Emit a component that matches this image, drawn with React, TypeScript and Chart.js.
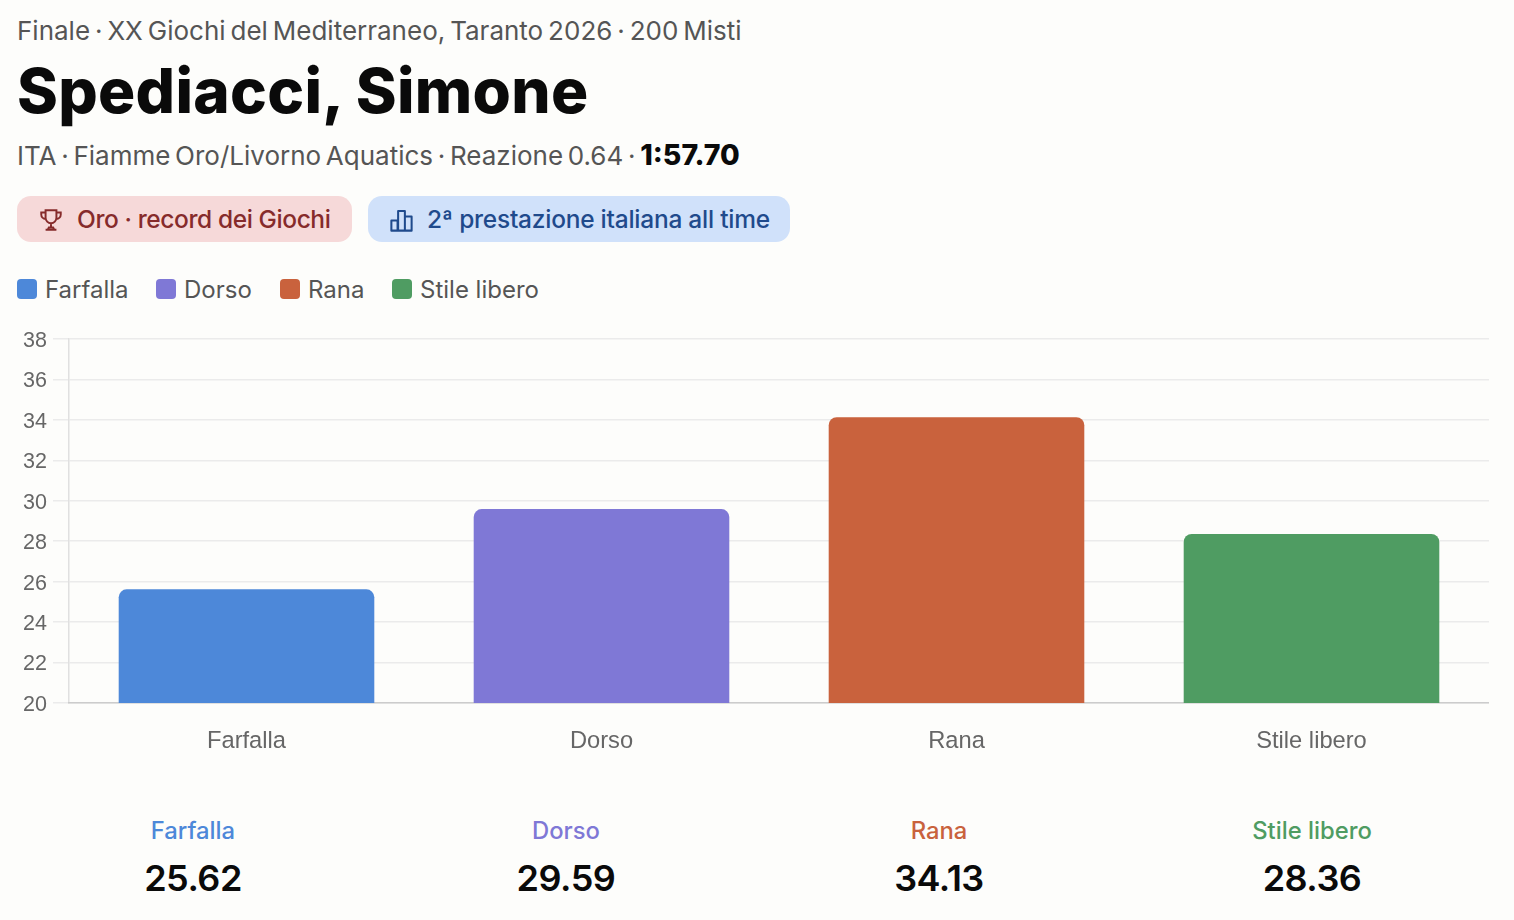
import React, { useEffect, useRef } from "react";
import { Chart, registerables } from "chart.js";

Chart.register(...registerables);

const categories = ["Farfalla", "Dorso", "Rana", "Stile libero"];
const splits = [25.62, 29.59, 34.13, 28.36];
const splitLabels = ["25.62", "29.59", "34.13", "28.36"];
const colors = ["#4d88d9", "#7f78d6", "#c9623d", "#4f9c62"];
const yTicks = [20, 22, 24, 26, 28, 30, 32, 34, 36, 38];

const FONT = "Inter, 'Noto Sans', sans-serif";
const abs = (x: number, y: number): React.CSSProperties => ({ position: "absolute", left: x, top: y, whiteSpace: "nowrap", lineHeight: 1 });

export default function App() {
  const ref = useRef<HTMLCanvasElement>(null);
  useEffect(() => {
    const chart = new Chart(ref.current!, {
      type: "bar",
      data: {
        labels: categories,
        datasets: [{ data: splits, backgroundColor: colors, borderRadius: 8, borderSkipped: "bottom", categoryPercentage: 0.72, barPercentage: 1 }],
      },
      options: {
        animation: false,
        responsive: false,
        maintainAspectRatio: false,
        devicePixelRatio: 1,
        layout: { padding: 0 },
        plugins: { legend: { display: false }, tooltip: { enabled: false } },
        scales: {
          y: {
            min: 20,
            max: 38,
            afterBuildTicks: (a: any) => { a.ticks = yTicks.map((value) => ({ value })); },
            afterFit: (a: any) => { a.width = 69; a.paddingTop = 19; },
            ticks: {
              color: "#666666",
              font: { family: "Liberation Sans, Arial, sans-serif", size: 21.5, lineHeight: "4px" },
              padding: 6,
              autoSkip: false,
              callback: (v: any) => ["", String(v)],
            },
            grid: { color: "#ebebeb", lineWidth: 1.5, tickLength: 16 },
            border: { color: "#e0e0e0", width: 1.5 },
          },
          x: {
            afterFit: (a: any) => { a.height = 57; },
            ticks: { color: "#666666", font: { family: "Liberation Sans, Arial, sans-serif", size: 23.7 }, padding: 16 },
            grid: { display: false },
            border: { color: "#cccccc", width: 1.5 },
          },
        },
      },
    });
    return () => chart.destroy();
  }, []);

  return (
    <div style={{ position: "absolute", left: 0, top: 0, width: 1514, height: 920, background: "#fdfdfb", overflow: "hidden", fontFamily: FONT, color: "#555" }}>
      <div style={{ ...abs(17, 18), fontSize: 26, wordSpacing: -2.4 }}>Finale · XX Giochi del Mediterraneo, Taranto 2026 · 200 Misti</div>
      <div style={{ ...abs(17, 60), fontSize: 62, fontWeight: 800, color: "#0a0a0a", letterSpacing: 0.3 }}>Spediacci, Simone</div>
      <div style={{ ...abs(17, 141), fontSize: 26, wordSpacing: -2.6 }}>
        ITA · Fiamme Oro/Livorno Aquatics · Reazione 0.64 · <span style={{ fontWeight: 800, color: "#0a0a0a", fontSize: 28.5, wordSpacing: 0 }}>1:57.70</span>
      </div>

      <div style={{ ...abs(17, 196), width: 335, height: 46, borderRadius: 14, background: "#f6d9d9" }} />
      <svg style={{ position: "absolute", left: 38, top: 207 }} width="26" height="26" viewBox="0 0 24 24" fill="none" stroke="#862b2b" strokeWidth="1.8">
        <path d="M7 3h10v7a5 5 0 0 1-10 0zM7 5H3v2a4 4 0 0 0 4 4M17 5h4v2a4 4 0 0 1-4 4M12 15v4M7 21h10M9 21l1-2h4l1 2" />
      </svg>
      <div style={{ ...abs(77, 207), fontSize: 24.5, fontWeight: 500, letterSpacing: -0.4, color: "#862b2b" }}>Oro · record dei Giochi</div>

      <div style={{ ...abs(368, 196), width: 422, height: 46, borderRadius: 14, background: "#d0e1fa" }} />
      <svg style={{ position: "absolute", left: 388, top: 207 }} width="27" height="27" viewBox="0 0 24 24" fill="none" stroke="#1f4a8c" strokeWidth="1.8">
        <path d="M3 12h5.500v9H3zM9 3.500h6V21H9zM15 8.500h6V21h-6zM3 21h18" strokeLinejoin="round" />
      </svg>
      <div style={{ ...abs(427, 207), fontSize: 24.5, fontWeight: 500, letterSpacing: -0.25, color: "#1f4a8c" }}>2ª prestazione italiana all time</div>

      {categories.map((c, i) => {
        const xs = [17, 156, 280, 392];
        return (
          <React.Fragment key={c}>
            <div style={{ ...abs(xs[i], 279), width: 20, height: 20, borderRadius: 4, background: colors[i] }} />
            <div style={{ ...abs(xs[i] + 28, 278), fontSize: 24 }}>{c}</div>
          </React.Fragment>
        );
      })}

      <canvas ref={ref} width={1489} height={440} style={{ position: "absolute", left: 0, top: 320, width: 1489, height: 440 }} />

      {categories.map((c, i) => {
        const cx = [193, 566, 939, 1312];
        return (
          <React.Fragment key={c + "s"}>
            <div style={{ position: "absolute", left: cx[i] - 100, width: 200, top: 819, textAlign: "center", fontSize: 23.8, fontWeight: 500, color: colors[i], lineHeight: 1 }}>{c}</div>
            <div style={{ position: "absolute", left: cx[i] - 100, width: 200, top: 860, textAlign: "center", fontSize: 36, fontWeight: 600, color: "#0a0a0a", lineHeight: 1, letterSpacing: -0.5 }}>{splitLabels[i]}</div>
          </React.Fragment>
        );
      })}
    </div>
  );
}
